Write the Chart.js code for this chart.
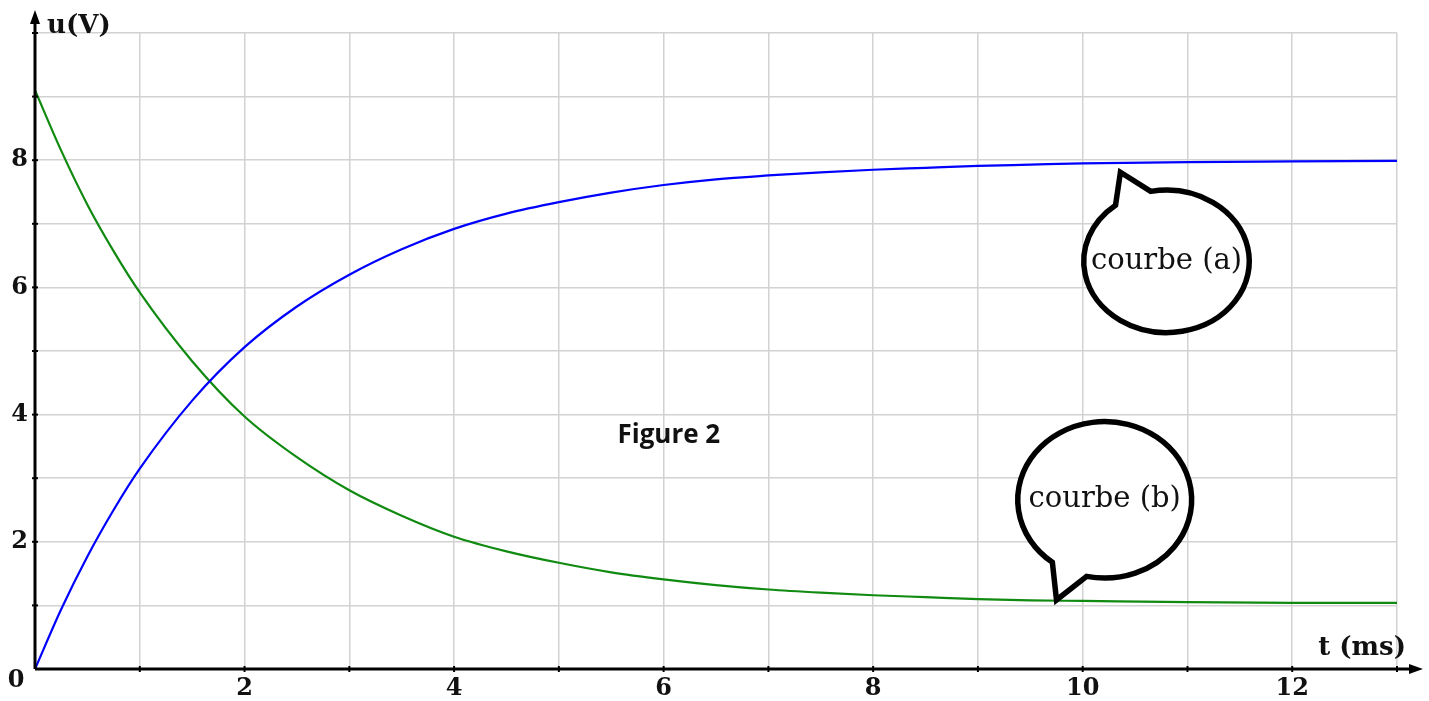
<!DOCTYPE html>
<html>
<head>
<meta charset="utf-8">
<title>Figure 2</title>
<script src="https://cdn.jsdelivr.net/npm/chart.js@4"></script>
<style>
  html, body { margin: 0; padding: 0; background: #fff; }
  #box { width: 1429px; height: 701px; }
</style>
</head>
<body>
<div id="box"><canvas id="graphe"></canvas></div>
<script>
// valeurs
const temps = [0, 0.25, 0.5, 0.75, 1, 1.5, 2, 2.5, 3, 3.5, 4, 4.5, 5, 5.5, 6, 6.5, 7, 7.5, 8, 8.5, 9, 9.5, 10, 11, 12, 13];
const courbeA = [0, 0.94, 1.77, 2.5, 3.15, 4.22, 5.06, 5.7, 6.2, 6.6, 6.92, 7.16, 7.34, 7.49, 7.61, 7.7, 7.76, 7.81, 7.85, 7.88, 7.91, 7.93, 7.95, 7.97, 7.98, 7.99];
const courbeB = [9.1, 8.15, 7.3, 6.57, 5.92, 4.84, 3.97, 3.33, 2.81, 2.41, 2.08, 1.85, 1.67, 1.52, 1.41, 1.32, 1.25, 1.2, 1.16, 1.13, 1.1, 1.08, 1.07, 1.05, 1.04, 1.04];
const ticksX = [2, 4, 6, 8, 10, 12];
const ticksY = [2, 4, 6, 8];

// bulles : centre, rayons, pointe (unités du graphe), angles de la base de la pointe
const bulles = [
    { texte: 'courbe (a)', t: 10.8, u: 6.41, rt: 0.79, ru: 1.12, pt: 10.36, pu: 7.81, a1: -101, a2: 232 },
    { texte: 'courbe (b)', t: 10.21, u: 2.66, rt: 0.83, ru: 1.23, pt: 9.75, pu: 1.085, a1: 127, a2: 462 }
];

const versPoints = (serie) => serie.map((v, i) => ({ x: temps[i], y: v }));

const axesEtBulles = {
    id: 'axesEtBulles',
    afterDatasetsDraw(chart) {
        const { ctx, chartArea, scales: { x, y } } = chart;
        const x0 = x.getPixelForValue(0);
        const y0 = y.getPixelForValue(0);
        ctx.save();
        ctx.strokeStyle = '#000';
        ctx.fillStyle = '#000';
        ctx.lineWidth = 3;
        // axe horizontal
        ctx.beginPath();
        ctx.moveTo(x0, y0);
        ctx.lineTo(chartArea.right + 14, y0);
        ctx.stroke();
        ctx.beginPath();
        ctx.moveTo(chartArea.right + 26, y0);
        ctx.lineTo(chartArea.right + 12, y0 - 5);
        ctx.lineTo(chartArea.right + 12, y0 + 5);
        ctx.closePath();
        ctx.fill();
        // axe vertical
        ctx.beginPath();
        ctx.moveTo(x0, y0);
        ctx.lineTo(x0, chartArea.top - 16);
        ctx.stroke();
        ctx.beginPath();
        ctx.moveTo(x0, chartArea.top - 23);
        ctx.lineTo(x0 - 5, chartArea.top - 9);
        ctx.lineTo(x0 + 5, chartArea.top - 9);
        ctx.closePath();
        ctx.fill();
        // graduations
        ctx.lineWidth = 2;
        for (let k = 1; k <= 13; k++) {
            const px = x.getPixelForValue(k);
            ctx.beginPath();
            ctx.moveTo(px, y0 - 3);
            ctx.lineTo(px, y0 + 3);
            ctx.stroke();
        }
        for (let k = 1; k <= 10; k++) {
            const py = y.getPixelForValue(k);
            ctx.beginPath();
            ctx.moveTo(x0 - 3, py);
            ctx.lineTo(x0 + 3, py);
            ctx.stroke();
        }
        // textes des axes
        ctx.fillStyle = '#111';
        ctx.font = 'bold 24px "DejaVu Serif"';
        ctx.textAlign = 'center';
        ctx.textBaseline = 'middle';
        ctx.fillText('0', x0 - 19, y0 + 12);
        ctx.font = 'bold 26px "DejaVu Serif"';
        ctx.textAlign = 'left';
        ctx.textBaseline = 'alphabetic';
        ctx.fillText('u(V)', x0 + 12, 33);
        ctx.textAlign = 'right';
        ctx.fillText('t (ms)', chartArea.right + 9, y0 - 14);
        // titre
        ctx.font = 'bold 26px "Open Sans"';
        ctx.textAlign = 'center';
        ctx.fillText('Figure 2', x.getPixelForValue(6.05), y.getPixelForValue(3.55));

        // bulles
        bulles.forEach((b) => {
            const cx = x.getPixelForValue(b.t);
            const cy = y.getPixelForValue(b.u);
            const rx = x.getPixelForValue(b.t + b.rt) - cx;
            const ry = cy - y.getPixelForValue(b.u + b.ru);
            const deb = b.a1 * Math.PI / 180;
            const fin = b.a2 * Math.PI / 180;
            ctx.beginPath();
            ctx.ellipse(cx, cy, rx, ry, 0, deb, fin);
            ctx.lineTo(x.getPixelForValue(b.pt), y.getPixelForValue(b.pu));
            ctx.closePath();
            ctx.fillStyle = '#fff';
            ctx.fill();
            ctx.lineWidth = 5.5;
            ctx.lineJoin = 'miter';
            ctx.strokeStyle = '#000';
            ctx.stroke();
            ctx.fillStyle = '#111';
            ctx.font = '29px "DejaVu Serif"';
            ctx.textAlign = 'center';
            ctx.textBaseline = 'middle';
            ctx.fillText(b.texte, cx, cy);
        });
        ctx.restore();
    }
};

const ctx = document.getElementById('graphe').getContext('2d');
const graphe = new Chart(ctx, {
    type: 'line',
    data: {
        datasets: [{
            label: 'courbe (a)',
            data: versPoints(courbeA),
            borderColor: '#0000ff',
            borderWidth: 2.2,
            pointRadius: 0,
            cubicInterpolationMode: 'monotone',
            fill: false
        }, {
            label: 'courbe (b)',
            data: versPoints(courbeB),
            borderColor: '#108a10',
            borderWidth: 2.2,
            pointRadius: 0,
            cubicInterpolationMode: 'monotone',
            fill: false
        }]
    },
    options: {
        responsive: true,
        maintainAspectRatio: false,
        animation: false,
        layout: { padding: { top: 33, right: 32, left: 0, bottom: 0 } },
        plugins: {
            legend: { display: false },
            tooltip: { enabled: false }
        },
        scales: {
            x: {
                type: 'linear',
                min: 0,
                max: 13,
                afterFit: (s) => { s.height = 32; },
                border: { display: false },
                grid: { color: '#d2d2d2', lineWidth: 1.5, drawTicks: false },
                ticks: {
                    stepSize: 1,
                    autoSkip: false,
                    maxRotation: 0,
                    padding: 5,
                    color: '#111',
                    font: { family: 'DejaVu Serif', size: 24, weight: 'bold' },
                    callback: (v) => ticksX.includes(v) ? String(v) : ''
                }
            },
            y: {
                min: 0,
                max: 10,
                afterFit: (s) => { s.width = 35; },
                border: { display: false },
                grid: { color: '#d2d2d2', lineWidth: 1.5, drawTicks: false },
                ticks: {
                    stepSize: 1,
                    autoSkip: false,
                    padding: 7,
                    color: '#111',
                    font: { family: 'DejaVu Serif', size: 24, weight: 'bold' },
                    callback: (v) => ticksY.includes(v) ? String(v) : ''
                }
            }
        }
    },
    plugins: [axesEtBulles]
});
</script>
</body>
</html>
